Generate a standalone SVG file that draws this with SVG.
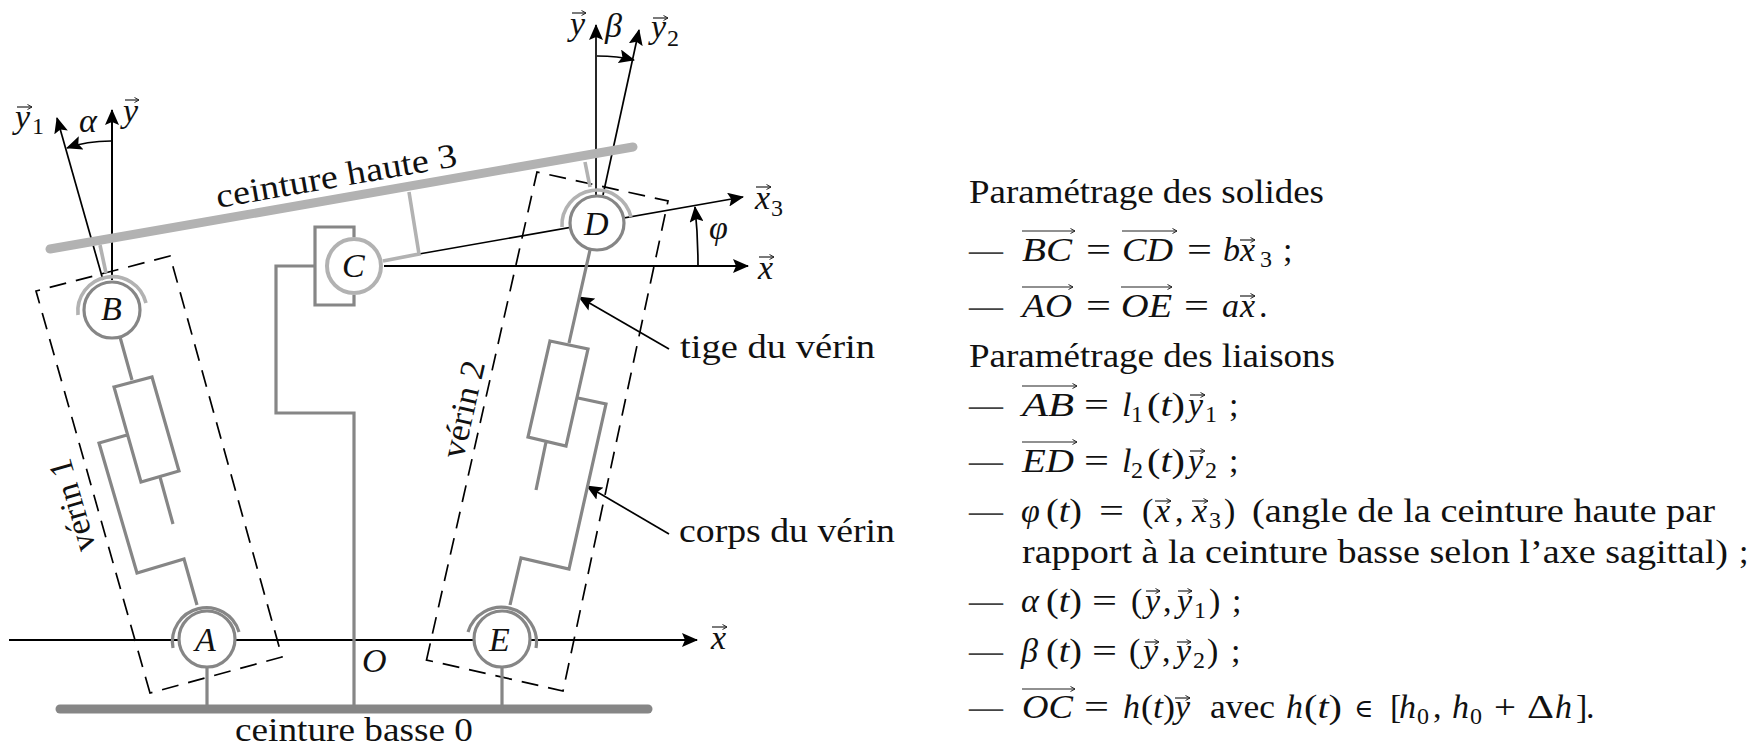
<svg xmlns="http://www.w3.org/2000/svg" width="1757" height="752" viewBox="0 0 1757 752">
<style>
text{font-family:"Liberation Serif","DejaVu Serif",serif;font-size:34px;fill:#111}
.m{font-style:italic}
.s{font-size:24px}
.d{fill:#444}
.ax{fill:none;stroke:#000;stroke-width:2}
.th{fill:none;stroke:#000;stroke-width:1.7}
.dash{fill:none;stroke:#000;stroke-width:1.7;stroke-dasharray:17 10}
.g{fill:none;stroke:#868686;stroke-width:3.2;stroke-linejoin:miter}
.l{fill:none;stroke:#b2b2b2;stroke-width:3.6}
.cg{fill:#fff;stroke:#868686;stroke-width:3.2}
.cl{fill:#fff;stroke:#b2b2b2;stroke-width:4}
.ov{fill:none;stroke:#222;stroke-width:1.2;marker-end:url(#v)}
</style>
<defs>
<marker id="a" viewBox="0 0 16 14" refX="15" refY="7" markerWidth="16" markerHeight="14" markerUnits="userSpaceOnUse" orient="auto"><path d="M0 0L16 7L0 14L3 7Z" fill="#000"/></marker>
<marker id="v" viewBox="0 0 6 6" refX="5.5" refY="3" markerWidth="6" markerHeight="6" markerUnits="userSpaceOnUse" orient="auto"><path d="M1 .5L5.500 3L1 5.500" fill="none" stroke="#222" stroke-width="1"/></marker>
</defs>
<g id="connectors">
<path class="ax" d="M9 640H212M235 640H480M526 640H697" marker-end="url(#a)"/>
<path class="ax" d="M384 266H748" marker-end="url(#a)"/>
<path class="th" d="M419 254L743 197" marker-end="url(#a)"/>
<path class="th" d="M698 266C698 244 697 226 695 207" marker-end="url(#a)"/>
<path class="ax" d="M112 280V110" marker-end="url(#a)"/>
<path class="th" d="M103 280L57 118" marker-end="url(#a)"/>
<path class="th" d="M111 141C95 141 81 143 67 148" marker-end="url(#a)"/>
<path class="th" d="M596 195V25" marker-end="url(#a)"/>
<path class="th" d="M603 195L639 30" marker-end="url(#a)"/>
<path class="th" d="M597 56C610 56 622 57 634 60" marker-end="url(#a)"/>
<path class="th" d="M669 349L579 297" marker-end="url(#a)"/>
<path class="th" d="M669 534L587 486" marker-end="url(#a)"/>
</g>
<g id="verin1">
<path class="dash" d="M150 693L36 291L170 256L282 657Z"/>
<path class="g" d="M120 337L132 380M114 387L152 377L179 471L141 482ZM160 477L173 524M127 435L99 443L137 573L184 559L197 605"/>
<text transform="translate(96 548) rotate(-106)" textLength="95" lengthAdjust="spacingAndGlyphs">vérin 1</text>
</g>
<g id="verin2">
<path class="dash" d="M426.500 660L537 172L668 201L563 691Z"/>
<path class="g" d="M590 250L569 343M550 341L588 349L566 446L528 437ZM546 442L536 490M578 398L606 404L569 569L521 558L510 605"/>
<text transform="translate(463 460) rotate(-77)" textLength="99" lengthAdjust="spacingAndGlyphs">vérin 2</text>
</g>
<g id="ceinture-haute">
<path fill="none" stroke="#b2b2b2" stroke-width="9" stroke-linecap="round" d="M50 249L633 147"/>
<path class="l" d="M100 245L106 273M585 162L590 187M409 192L419 254L383 261"/>
<text transform="translate(218 208) rotate(-9.900)" textLength="244" lengthAdjust="spacingAndGlyphs">ceinture haute 3</text>
</g>
<g id="ceinture-basse">
<path fill="none" stroke="#868686" stroke-width="9" stroke-linecap="round" d="M60 709H648"/>
<path class="g" d="M207 667V709M502 667V709M354 709V413H276V266H315M354 237V227H315V305H354V295"/>
<text x="235" y="741" textLength="238" lengthAdjust="spacingAndGlyphs">ceinture basse 0</text>
<text class="m" x="362" y="672">O</text>
</g>
<g id="node-A"><path class="g" d="M173 648A34 34 0 0 1 239 632"/><circle class="cg" cx="207" cy="639" r="28"/><text class="m" x="195" y="651">A</text></g>
<g id="node-E"><path class="g" d="M468 632A35 35 0 0 1 536 648"/><circle class="cg" cx="502" cy="639" r="28"/><text class="m" x="489" y="651">E</text></g>
<g id="node-B"><path class="l" d="M78 315A34.600 34.600 0 0 1 146 303"/><circle class="cg" cx="112" cy="310" r="28"/><text class="m" x="101" y="320">B</text></g>
<g id="node-C"><circle class="cl" cx="354" cy="266" r="27"/><text class="m" x="342" y="277">C</text></g>
<g id="node-D"><path class="l" d="M562 227A35 35 0 0 1 631 217"/><circle class="cg" cx="597" cy="223" r="27"/><text class="m" x="584" y="235">D</text></g>
<g id="axis-labels">
<text class="m" x="15" y="128">y</text><text class="s" x="32" y="134">1</text><path class="ov" d="M17 107H32"/>
<text class="m" x="79" y="132">α</text>
<text class="m" x="123" y="122">y</text><path class="ov" d="M125 100H139"/>
<text class="m" x="570" y="35">y</text><path class="ov" d="M572 13H586"/>
<text class="m" x="605" y="37">β</text>
<text class="m" x="651" y="38">y</text><text class="s" x="667" y="46">2</text><path class="ov" d="M653 18H668"/>
<text class="m" x="755" y="209">x</text><text class="s" x="771" y="216">3</text><path class="ov" d="M756 187H771"/>
<text class="m" x="709" y="239">φ</text>
<text class="m" x="758" y="279">x</text><path class="ov" d="M759 257H774"/>
<text class="m" x="711" y="649">x</text><path class="ov" d="M712 627H727"/>
</g>
<g id="callouts">
<text x="680" y="358" textLength="195" lengthAdjust="spacingAndGlyphs">tige du vérin</text>
<text x="679" y="542" textLength="216" lengthAdjust="spacingAndGlyphs">corps du vérin</text>
</g>
<g id="parametrage">
<text x="969" y="203" textLength="355" lengthAdjust="spacingAndGlyphs">Paramétrage des solides</text>
<text class="d" x="969" y="261">—</text>
<text class="m" x="1022" y="261" textLength="50" lengthAdjust="spacingAndGlyphs">BC</text><path class="ov" d="M1022 231H1075"/>
<text x="1086" y="261" textLength="25" lengthAdjust="spacingAndGlyphs">=</text>
<text class="m" x="1122" y="261" textLength="51" lengthAdjust="spacingAndGlyphs">CD</text><path class="ov" d="M1122 231H1177"/>
<text x="1187" y="261" textLength="25" lengthAdjust="spacingAndGlyphs">=</text>
<text class="m" x="1223" y="261">b</text><text class="m" x="1240" y="261">x</text><text class="s" x="1260" y="267">3</text><path class="ov" d="M1240 240H1255"/>
<text x="1283" y="261">;</text>
<text class="d" x="969" y="317">—</text>
<text class="m" x="1022" y="317" textLength="50" lengthAdjust="spacingAndGlyphs">AO</text><path class="ov" d="M1022 287H1073"/>
<text x="1086" y="317" textLength="25" lengthAdjust="spacingAndGlyphs">=</text>
<text class="m" x="1121" y="317" textLength="51" lengthAdjust="spacingAndGlyphs">OE</text><path class="ov" d="M1121 287H1172"/>
<text x="1184" y="317" textLength="25" lengthAdjust="spacingAndGlyphs">=</text>
<text class="m" x="1222" y="317">a</text><text class="m" x="1240" y="317">x</text><path class="ov" d="M1240 296H1255"/>
<text x="1259" y="317">.</text>
<text x="969" y="367" textLength="366" lengthAdjust="spacingAndGlyphs">Paramétrage des liaisons</text>
<text class="d" x="969" y="416">—</text>
<text class="m" x="1022" y="416" textLength="52" lengthAdjust="spacingAndGlyphs">AB</text><path class="ov" d="M1022 386H1077"/>
<text x="1084" y="416" textLength="25" lengthAdjust="spacingAndGlyphs">=</text>
<text class="m" x="1122" y="416">l</text><text class="s" x="1131" y="422">1</text><text x="1147" y="416" textLength="38" lengthAdjust="spacingAndGlyphs">(<tspan class="m">t</tspan>)</text>
<text class="m" x="1188" y="416">y</text><text class="s" x="1205" y="422">1</text><path class="ov" d="M1190 395H1205"/>
<text x="1229" y="416">;</text>
<text class="d" x="969" y="472">—</text>
<text class="m" x="1022" y="472" textLength="52" lengthAdjust="spacingAndGlyphs">ED</text><path class="ov" d="M1022 442H1077"/>
<text x="1084" y="472" textLength="25" lengthAdjust="spacingAndGlyphs">=</text>
<text class="m" x="1122" y="472">l</text><text class="s" x="1131" y="478">2</text><text x="1147" y="472" textLength="38" lengthAdjust="spacingAndGlyphs">(<tspan class="m">t</tspan>)</text>
<text class="m" x="1188" y="472">y</text><text class="s" x="1205" y="478">2</text><path class="ov" d="M1190 451H1205"/>
<text x="1229" y="472">;</text>
<text class="d" x="969" y="522">—</text>
<text class="m" x="1021" y="522">φ</text><text x="1046" y="522" textLength="36" lengthAdjust="spacingAndGlyphs">(<tspan class="m">t</tspan>)</text>
<text x="1099" y="522" textLength="25" lengthAdjust="spacingAndGlyphs">=</text>
<text x="1142" y="522">(</text><text class="m" x="1155" y="522">x</text><text x="1175" y="522">,</text><path class="ov" d="M1155 501H1171"/>
<text class="m" x="1192" y="522">x</text><text class="s" x="1209" y="528">3</text><path class="ov" d="M1192 501H1208"/>
<text x="1224" y="522">)</text>
<text x="1252" y="522" textLength="463" lengthAdjust="spacingAndGlyphs">(angle de la ceinture haute par</text>
<text x="1022" y="563" textLength="706" lengthAdjust="spacingAndGlyphs">rapport à la ceinture basse selon l’axe sagittal)</text>
<text x="1739" y="563">;</text>
<text class="d" x="969" y="612">—</text>
<text class="m" x="1021" y="612">α</text><text x="1046" y="612" textLength="36" lengthAdjust="spacingAndGlyphs">(<tspan class="m">t</tspan>)</text>
<text x="1092" y="612" textLength="25" lengthAdjust="spacingAndGlyphs">=</text>
<text x="1131" y="612">(</text><text class="m" x="1145" y="612">y</text><text x="1163" y="612">,</text><path class="ov" d="M1146 591H1160"/>
<text class="m" x="1177" y="612">y</text><text class="s" x="1194" y="618">1</text><path class="ov" d="M1178 591H1192"/>
<text x="1209" y="612">)</text><text x="1232" y="612">;</text>
<text class="d" x="969" y="662">—</text>
<text class="m" x="1021" y="662">β</text><text x="1046" y="662" textLength="36" lengthAdjust="spacingAndGlyphs">(<tspan class="m">t</tspan>)</text>
<text x="1092" y="662" textLength="25" lengthAdjust="spacingAndGlyphs">=</text>
<text x="1129" y="662">(</text><text class="m" x="1143" y="662">y</text><text x="1162" y="662">,</text><path class="ov" d="M1145 642H1159"/>
<text class="m" x="1176" y="662">y</text><text class="s" x="1193" y="668">2</text><path class="ov" d="M1177 642H1191"/>
<text x="1207" y="662">)</text><text x="1231" y="662">;</text>
<text class="d" x="969" y="718">—</text>
<text class="m" x="1022" y="718" textLength="51" lengthAdjust="spacingAndGlyphs">OC</text><path class="ov" d="M1022 689H1075"/>
<text x="1084" y="718" textLength="25" lengthAdjust="spacingAndGlyphs">=</text>
<text class="m" x="1123" y="718">h</text><text x="1141" y="718" textLength="34" lengthAdjust="spacingAndGlyphs">(<tspan class="m">t</tspan>)</text>
<text class="m" x="1175" y="718">y</text><path class="ov" d="M1175 698H1190"/>
<text x="1210" y="718" textLength="65" lengthAdjust="spacingAndGlyphs">avec</text>
<text class="m" x="1286" y="718">h</text><text x="1304" y="718" textLength="38" lengthAdjust="spacingAndGlyphs">(<tspan class="m">t</tspan>)</text>
<text x="1354" y="717" style="font-family:'DejaVu Serif',serif;font-size:26px">∈</text>
<text x="1390" y="718">[</text><text class="m" x="1399" y="718">h</text><text class="s" x="1417" y="724">0</text><text x="1433" y="718">,</text>
<text class="m" x="1452" y="718">h</text><text class="s" x="1470" y="724">0</text>
<text x="1494" y="718" textLength="22" lengthAdjust="spacingAndGlyphs">+</text>
<text x="1527" y="718" textLength="27" lengthAdjust="spacingAndGlyphs">Δ</text><text class="m" x="1555" y="718">h</text><text x="1576" y="718">]</text><text x="1586" y="718">.</text>
</g>
</svg>
